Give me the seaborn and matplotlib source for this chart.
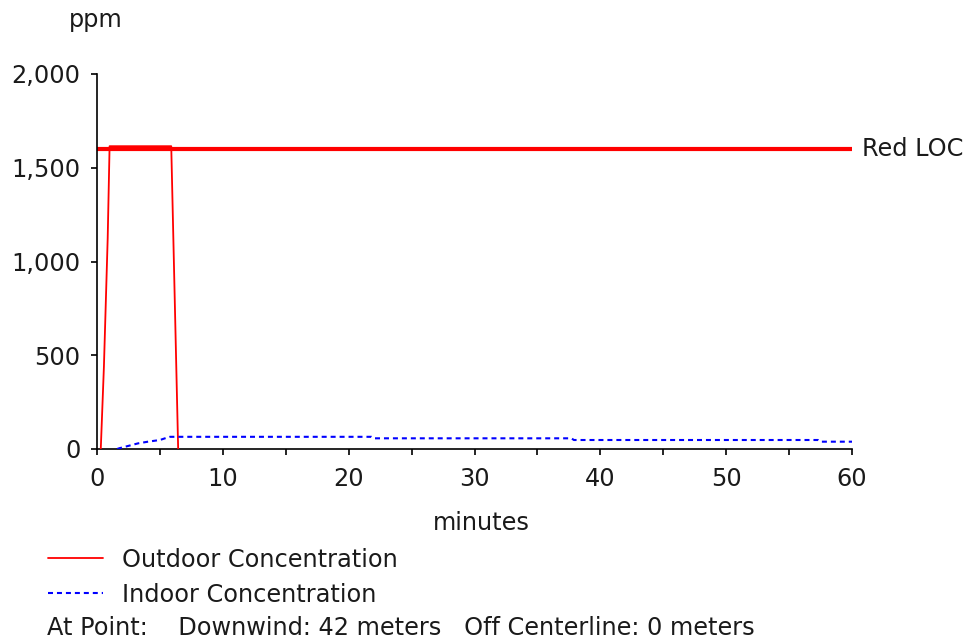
import pandas as pd
import matplotlib.pyplot as plt
import seaborn as sns
from matplotlib.ticker import StrMethodFormatter, MultipleLocator

# Outdoor concentration (ppm) vs time (minutes)
outdoor_minutes = [0.3, 0.55, 0.85, 1.0, 5.9, 6.45]
outdoor_ppm = [0, 440, 1125, 1615, 1615, 0]

# Indoor concentration (ppm) vs time (minutes)
indoor_minutes = [1.6, 1.77, 2.46, 3.26, 4.05, 5.0, 5.54, 5.8, 21.8, 22.0,
                  37.7, 37.9, 57.3, 57.5, 60]
indoor_ppm = [0, 4, 16, 30, 39, 48, 60, 65, 65, 57, 57, 48, 48, 39, 39]

red_loc = 1600
loc_label = 'Red LOC'
legend_labels = ['Outdoor Concentration', 'Indoor Concentration']
footer = 'At Point:    Downwind: 42 meters   Off Centerline: 0 meters'

outdoor = pd.DataFrame({'minutes': outdoor_minutes, 'ppm': outdoor_ppm})
indoor = pd.DataFrame({'minutes': indoor_minutes, 'ppm': indoor_ppm})

sns.set_theme(style='ticks')
plt.rcParams['font.family'] = ['DejaVu Sans']
text_color = '#1a1a1a'
fs = 17.3

fig = plt.figure(figsize=(9.65, 6.43), dpi=100)
ax = fig.add_axes([97 / 965, 1 - 449 / 643, (852 - 97) / 965, (449 - 74) / 643])

ax.axhline(red_loc, color='#ff0000', lw=3.0, solid_capstyle='butt', zorder=2)
sns.lineplot(data=outdoor, x='minutes', y='ppm', ax=ax, color='#ff0000',
             lw=1.3, label=legend_labels[0], zorder=3)
sns.lineplot(data=indoor, x='minutes', y='ppm', ax=ax, color='#0000ff',
             lw=1.5, linestyle=(0, (2.4, 1.9)), label=legend_labels[1], zorder=3)

ax.set_xlim(0, 60)
ax.set_ylim(0, 2000)
ax.xaxis.set_major_locator(MultipleLocator(10))
ax.xaxis.set_minor_locator(MultipleLocator(5))
ax.yaxis.set_major_locator(MultipleLocator(500))
ax.yaxis.set_major_formatter(StrMethodFormatter('{x:,.0f}'))
ax.tick_params(which='both', length=4, width=1.2, color='black',
               labelsize=fs, labelcolor=text_color, pad=9)
ax.tick_params(axis='y', pad=8)
for side in ['left', 'bottom']:
    ax.spines[side].set_color('black')
    ax.spines[side].set_linewidth(1.2)
sns.despine(ax=ax)
ax.set_xlabel('')
ax.set_ylabel('')

ax.annotate(loc_label, xy=(60, red_loc), xytext=(7, 0),
            textcoords='offset points', ha='left', va='center', fontsize=fs,
            color=text_color, annotation_clip=False)
fig.text(96 / 965, 1 - 20 / 643, 'ppm', ha='center', va='center',
         fontsize=fs, color=text_color)
fig.text(481 / 965, 1 - 523 / 643, 'minutes', ha='center', va='center',
         fontsize=fs, color=text_color)

handles, labels = ax.get_legend_handles_labels()
ax.legend_.remove()
fig.legend(handles, labels, loc='upper left',
           bbox_to_anchor=(31 / 965, 1 - 531 / 643), frameon=False,
           fontsize=fs, handlelength=2.3, handletextpad=0.8,
           labelspacing=0.45, labelcolor=text_color, borderpad=0.2)
fig.text(47 / 965, 1 - 628 / 643, footer, ha='left', va='center',
         fontsize=fs, color=text_color)

fig.savefig('out.png', dpi=100)
